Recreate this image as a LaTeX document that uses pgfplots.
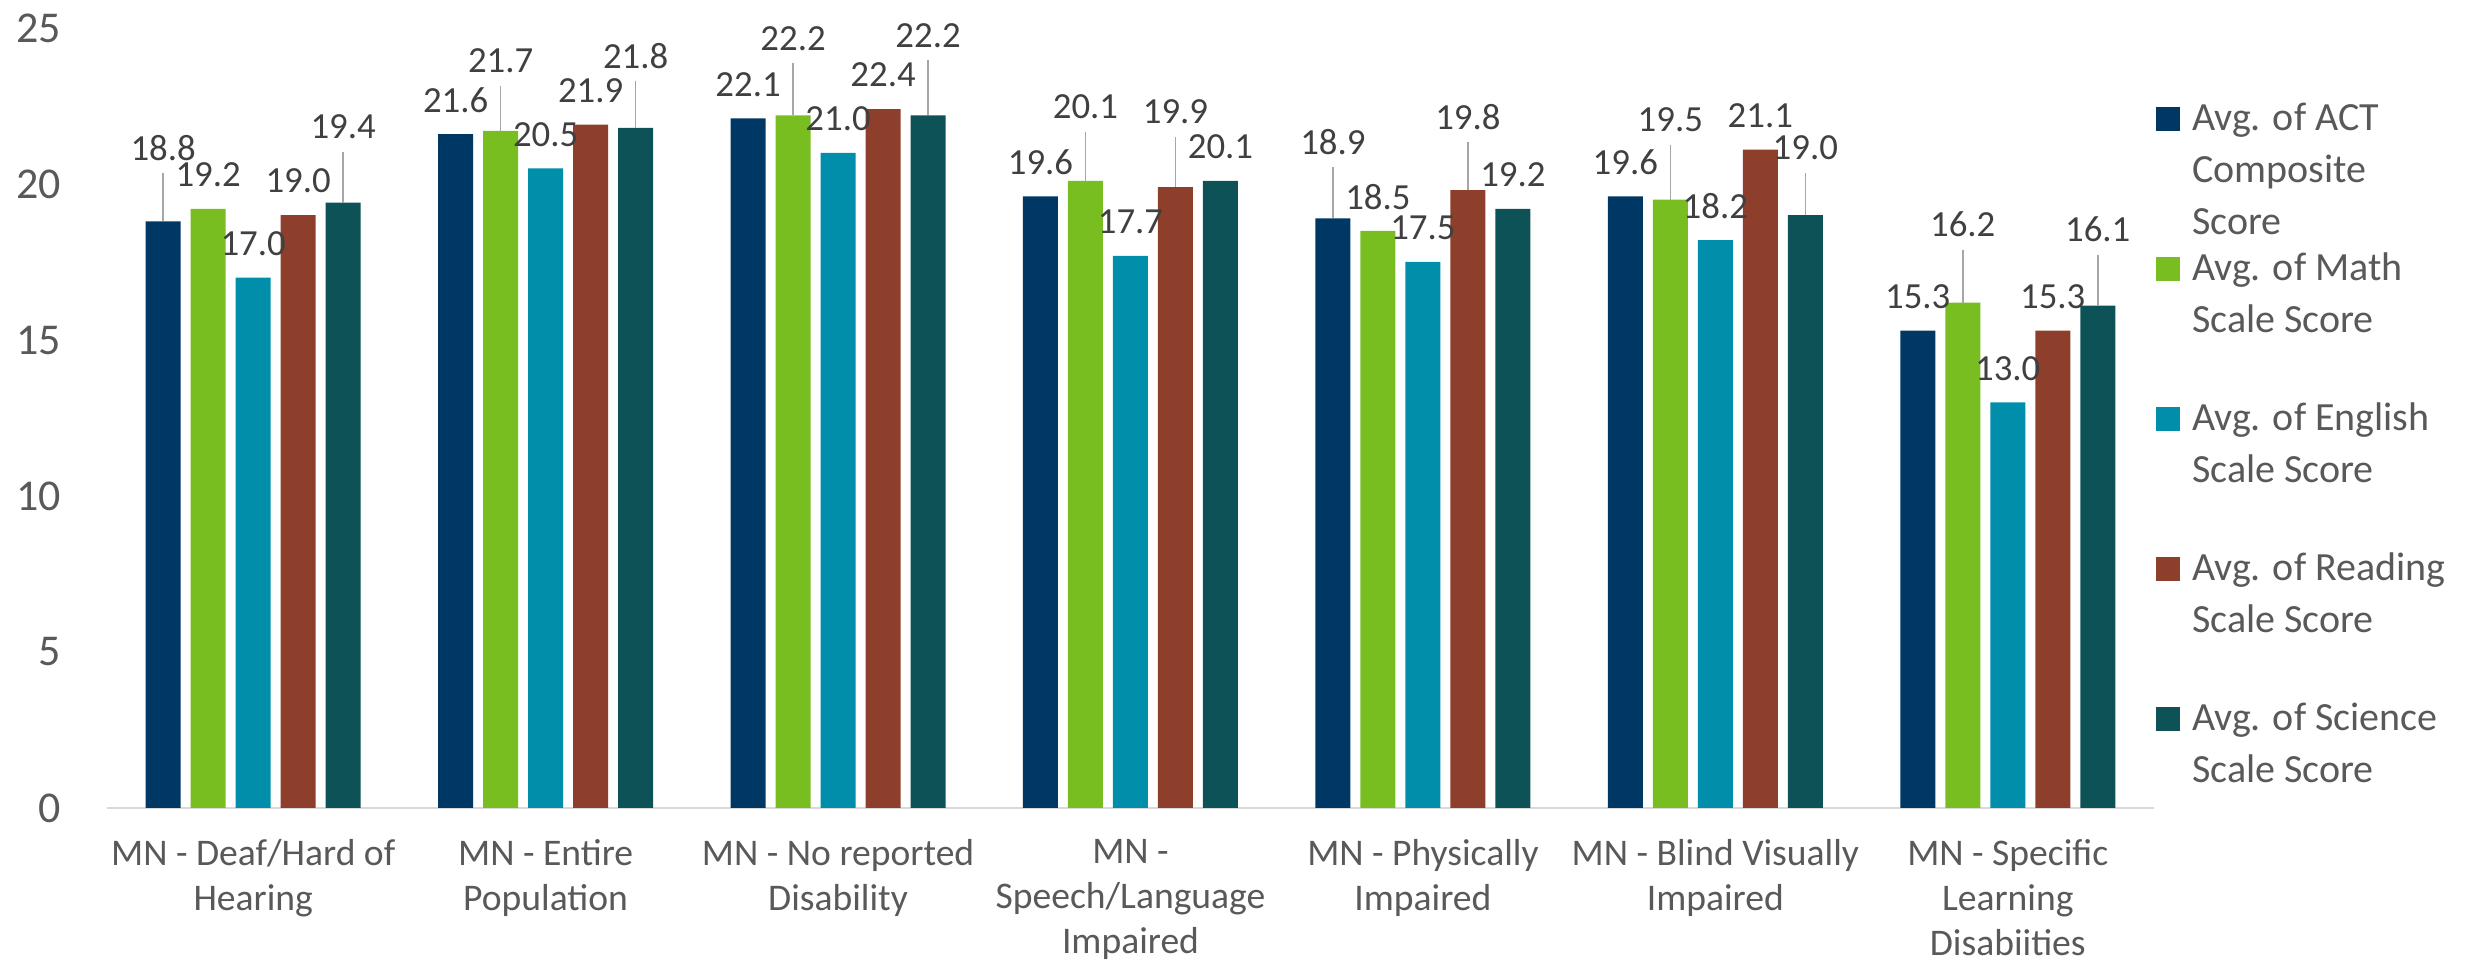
\documentclass[border=0pt]{standalone}
\usepackage{fontspec}
\setmainfont{Carlito}
\usepackage{pgfplots}
\pgfplotsset{compat=1.18}
\definecolor{cNavy}{HTML}{003865}
\definecolor{cGreen}{HTML}{78BE21}
\definecolor{cBlue}{HTML}{008EAA}
\definecolor{cBrown}{HTML}{8D3F2B}
\definecolor{cTeal}{HTML}{0D5257}
\definecolor{txtgray}{HTML}{595959}
\definecolor{lblgray}{HTML}{404040}
\definecolor{axgray}{HTML}{D9D9D9}
\definecolor{leadgray}{HTML}{A6A6A6}
\pgfplotsset{mylegend/.style={legend image code/.code={\fill[##1] (0pt,-0.25pt) rectangle (6pt,5.75pt); \path (0pt,-30.5pt) (0pt,7pt);}}}
\begin{document}
\begin{tikzpicture}
\begin{axis}[
  at={(0,0)}, anchor=south west,
  scale only axis, width=511.75pt, height=195pt,
  xmin=-0.5, xmax=6.5, ymin=0, ymax=25,
  ybar=2.5pt, bar width=8.75pt,
  axis x line*=bottom, axis y line*=left,
  y axis line style={draw=none},
  x axis line style={draw=axgray, line width=0.6pt},
  major tick length=0pt,
  ytick={0,5,...,25},
  xtick={0,...,6},
  xticklabels={{MN - Deaf/Hard of\\Hearing},{MN - Entire\\Population},{MN - No reported\\Disability},{MN -\\Speech/Language\\Impaired},{MN - Physically\\Impaired},{MN - Blind Visually\\Impaired},{MN - Specific\\Learning\\Disabiities}},
  /pgf/number format/assume math mode=true,
  yticklabel style={font=\fontsize{11}{13}\selectfont, text=txtgray, inner sep=0pt, xshift=-11.25pt},
  xticklabel style={font=\fontsize{9.4}{11.2}\selectfont, text=txtgray, align=center, anchor=north, inner sep=0pt, yshift=-7.75pt},
  clip=false,
  error bars/y dir=plus, error bars/y explicit, error bars/error mark=none,
  error bars/error bar style={leadgray, line width=0.4pt},
  visualization depends on={\thisrow{ly} \as \labely},
  nodes near coords={\pgfmathprintnumber[fixed,fixed zerofill,precision=1]{\pgfplotspointmeta}},
  every node near coord/.append style={font=\fontsize{9.2}{11}\selectfont, text=lblgray, anchor=center, inner sep=0pt, yshift=\labely*1pt},
  legend style={at={(1.001,0.905)}, anchor=north west, draw=none, fill=none, inner sep=0pt, outer sep=0pt, column sep=3pt, row sep=0pt, font=\fontsize{10}{13}\selectfont, cells={anchor=base west}, nodes={inner sep=0pt, text=txtgray}},
]
\addplot[fill=cNavy, draw=none, mylegend] table[x=x,y=y,y error=e] {
x y ly e
0 18.8 18.25 1.54
1 21.6 8.5 0
2 22.1 8.5 0
3 19.6 8.5 0
4 18.9 19.0 1.63
5 19.6 8.5 0
6 15.3 8.5 0
};
\addlegendentry{\parbox[t]{80pt}{Avg. of ACT\\Composite\\Score}}
\addplot[fill=cGreen, draw=none, mylegend] table[x=x,y=y,y error=e] {
x y ly e
0 19.2 8.5 0
1 21.7 17.5 1.44
2 22.2 19.25 1.67
3 20.1 18.5 1.57
4 18.5 8.5 0
5 19.5 20.0 1.76
6 16.2 19.5 1.70
};
\addlegendentry{\parbox[t]{80pt}{Avg. of Math\\Scale Score}}
\addplot[fill=cBlue, draw=none, mylegend] table[x=x,y=y,y error=e] {
x y ly e
0 17.0 8.5 0
1 20.5 8.5 0
2 21.0 8.5 0
3 17.7 8.5 0
4 17.5 8.5 0
5 18.2 8.5 0
6 13.0 8.5 0
};
\addlegendentry{\parbox[t]{80pt}{Avg. of English\\Scale Score}}
\addplot[fill=cBrown, draw=none, mylegend] table[x=x,y=y,y error=e] {
x y ly e
0 19.0 8.5 0
1 21.9 8.5 0
2 22.4 8.5 0
3 19.9 18.75 1.60
4 19.8 18.25 1.54
5 21.1 8.5 0
6 15.3 8.5 0
};
\addlegendentry{\parbox[t]{80pt}{Avg. of Reading\\Scale Score}}
\addplot[fill=cTeal, draw=none, mylegend] table[x=x,y=y,y error=e] {
x y ly e
0 19.4 19.0 1.63
1 21.8 18.0 1.51
2 22.2 20.0 1.76
3 20.1 8.5 0
4 19.2 8.5 0
5 19.0 16.75 1.35
6 16.1 19.0 1.63
};
\addlegendentry{\parbox[t]{80pt}{Avg. of Science\\Scale Score}}
\end{axis}
\pgfresetboundingbox
\path (-26.75pt,-39pt) rectangle (592.5pt,202pt);
\end{tikzpicture}
\end{document}
